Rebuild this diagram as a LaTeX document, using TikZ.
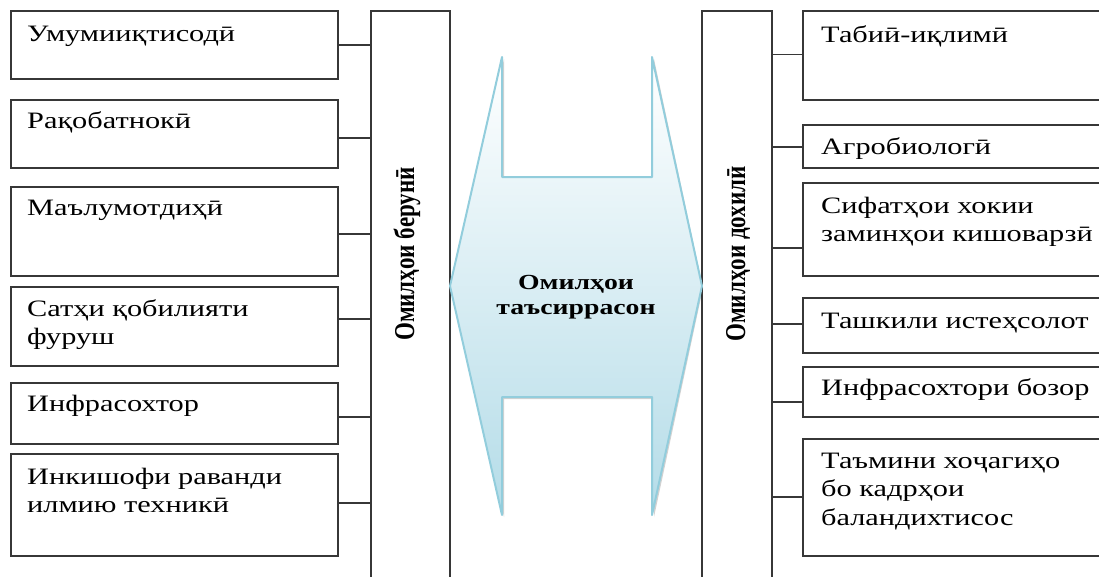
\documentclass[tikz,border=0pt]{standalone}
\usepackage{fontspec}
\setmainfont{Liberation Serif}[FakeStretch=1.29]
\newfontfamily\rotfont{Liberation Serif}
\usetikzlibrary{calc}
\definecolor{edge}{RGB}{55,55,55}
\definecolor{arrowline}{RGB}{146,205,220}
\definecolor{arrowfill}{RGB}{180,220,232}
\newcommand{\boxtext}[1]{\begin{tabular}[t]{@{}l@{}}#1\end{tabular}}
\tikzset{
  box/.style={draw=edge, line width=1.4pt, inner sep=0pt, outer sep=0pt, anchor=north west},
  lbl/.style={anchor=base west, inner sep=0pt, font=\fontsize{23.5}{28.7}\selectfont},
  conn/.style={draw=edge, line width=1.5pt},
  vlabel/.style={rotate=90, inner sep=0pt, font=\rotfont\bfseries\fontsize{23}{27}\selectfont},
}
\begin{document}
\begin{tikzpicture}[x=1pt,y=-1pt]
\useasboundingbox (0,0) rectangle (1099,576);
\clip (0,0) rectangle (1099,576);
% left boxes
\node[box, minimum width=327pt, minimum height=68pt] (L1) at (11,11) {};
\node[box, minimum width=327pt, minimum height=68pt] (L2) at (11,100) {};
\node[box, minimum width=327pt, minimum height=89pt] (L3) at (11,187) {};
\node[box, minimum width=327pt, minimum height=79pt] (L4) at (11,287) {};
\node[box, minimum width=327pt, minimum height=61pt] (L5) at (11,383) {};
\node[box, minimum width=327pt, minimum height=102pt] (L6) at (11,454) {};
\node[lbl] (t1) at ([xshift=16pt,yshift=-30pt]L1.north west) {\boxtext{Умумииқтисодӣ}};
\node[lbl] (t2) at ([xshift=16pt,yshift=-28pt]L2.north west) {\boxtext{Рақобатнокӣ}};
\node[lbl] (t3) at ([xshift=16pt,yshift=-28pt]L3.north west) {\boxtext{Маълумотдиҳӣ}};
\node[lbl] (t4) at ([xshift=16pt,yshift=-29pt]L4.north west) {\boxtext{Сатҳи қобилияти\\фуруш}};
\node[lbl] (t5) at ([xshift=16pt,yshift=-28pt]L5.north west) {\boxtext{Инфрасохтор}};
\node[lbl] (t6) at ([xshift=16pt,yshift=-30pt]L6.north west) {\boxtext{Инкишофи раванди\\илмию техникӣ}};
% left tall box
\node[box, minimum width=79pt, minimum height=620pt] (LB) at (371,11) {};
\node[vlabel] (LBt) at (407,254) {\scalebox{1}[1.25]{Омилҳои берунӣ}};
% right tall box
\node[box, minimum width=70pt, minimum height=620pt] (RB) at (702,11) {};
\node[vlabel] (RBt) at (738,254) {\scalebox{1}[1.25]{Омилҳои дохилӣ}};
% right boxes
\node[box, minimum width=330pt, minimum height=89pt] (R1) at (803,11) {};
\node[box, minimum width=330pt, minimum height=43pt] (R2) at (803,125) {};
\node[box, minimum width=330pt, minimum height=93pt] (R3) at (803,183) {};
\node[box, minimum width=330pt, minimum height=55pt] (R4) at (803,298) {};
\node[box, minimum width=330pt, minimum height=50pt] (R5) at (803,367) {};
\node[box, minimum width=330pt, minimum height=117pt] (R6) at (803,439) {};
\node[lbl] (s1) at ([xshift=18pt,yshift=-31pt]R1.north west) {\boxtext{Табиӣ-иқлимӣ}};
\node[lbl] (s2) at ([xshift=18pt,yshift=-29pt]R2.north west) {\boxtext{Агробиологӣ}};
\node[lbl] (s3) at ([xshift=18pt,yshift=-30pt]R3.north west) {\boxtext{Сифатҳои хокии\\заминҳои кишоварзӣ}};
\node[lbl] (s4) at ([xshift=18pt,yshift=-30pt]R4.north west) {\boxtext{Ташкили истеҳсолот}};
\node[lbl] (s5) at ([xshift=18pt,yshift=-28pt]R5.north west) {\boxtext{Инфрасохтори бозор}};
\node[lbl] (s6) at ([xshift=18pt,yshift=-29pt]R6.north west) {\boxtext{Таъмини хоҷагиҳо\\бо кадрҳои\\баландихтисос}};
% connectors left
\draw[conn] (L1.east) -- (L1.east -| LB.west);
\draw[conn] ([yshift=-4pt]L2.east) -- ([yshift=-4pt]L2.east -| LB.west);
\draw[conn] ([yshift=-2.5pt]L3.east) -- ([yshift=-2.5pt]L3.east -| LB.west);
\draw[conn] ([yshift=7.5pt]L4.east) -- ([yshift=7.5pt]L4.east -| LB.west);
\draw[conn] ([yshift=-3.5pt]L5.east) -- ([yshift=-3.5pt]L5.east -| LB.west);
\draw[conn] ([yshift=2pt]L6.east) -- ([yshift=2pt]L6.east -| LB.west);
% connectors right
\draw[conn] ([yshift=1pt]RB.east |- R1.west) -- ([yshift=1pt]R1.west);
\draw[conn] ([yshift=-0.5pt]RB.east |- R2.west) -- ([yshift=-0.5pt]R2.west);
\draw[conn] ([yshift=-18.5pt]RB.east |- R3.west) -- ([yshift=-18.5pt]R3.west);
\draw[conn] ([yshift=1.5pt]RB.east |- R4.west) -- ([yshift=1.5pt]R4.west);
\draw[conn] ([yshift=-10pt]RB.east |- R5.west) -- ([yshift=-10pt]R5.west);
\draw[conn] ([yshift=0.5pt]RB.east |- R6.west) -- ([yshift=0.5pt]R6.west);
% central double arrow
\fill[black, opacity=0.18, xshift=2pt, yshift=-2pt]
  (451,286) -- (502,57) -- (502,177) -- (652,177) -- (652,57) -- (701,286)
  -- (652,515) -- (652,397) -- (502,397) -- (502,515) -- cycle;
\path[draw=arrowline, line width=2pt, line join=round, top color=white, bottom color=arrowfill]
  (450,286) -- (502,57) -- (502,177) -- (652,177) -- (652,57) -- (702,286)
  -- (652,515) -- (652,397) -- (502,397) -- (502,515) -- cycle;
\node[align=center, inner sep=0pt, font=\bfseries\fontsize{21.5}{25.5}\selectfont] (C) at (576,297) {Омилҳои\\таъсиррасон};
\end{tikzpicture}
\end{document}
